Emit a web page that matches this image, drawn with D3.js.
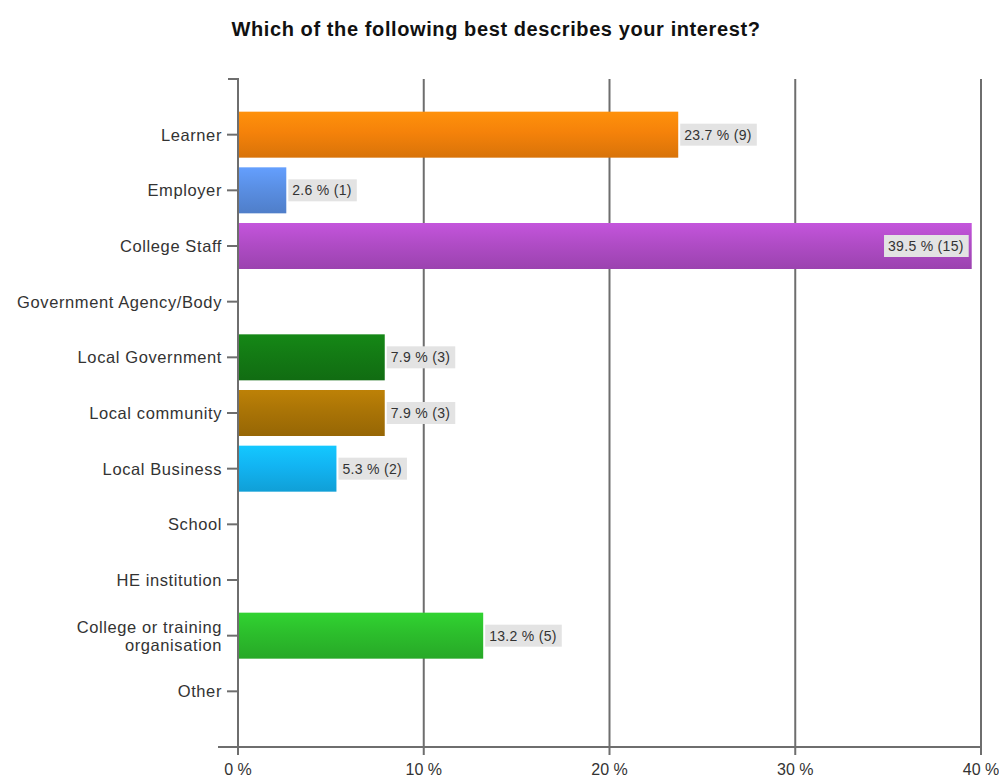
<!DOCTYPE html>
<html>
<head>
<meta charset="utf-8">
<script src="https://cdn.jsdelivr.net/npm/d3@7"></script>
<style>
  html, body { margin: 0; padding: 0; background: #fff; }
  svg { display: block; }
  text { font-family: "Liberation Sans", Arial, sans-serif; }
</style>
</head>
<body>
<svg id="chart" width="999" height="778"></svg>
<script>
// Survey responses: share of respondents per interest group
const categories = [
  "Learner", "Employer", "College Staff", "Government Agency/Body",
  "Local Government", "Local community", "Local Business", "School",
  "HE institution", "College or training organisation", "Other"
];
const percents = [23.7, 2.6, 39.5, 0, 7.9, 7.9, 5.3, 0, 0, 13.2, 0];
const counts   = [9, 1, 15, 0, 3, 3, 2, 0, 0, 5, 0];
const barColors = [
  "#f5820a", "#5a8fe4", "#b04cc6", "#888", "#137a14", "#aa7406",
  "#12b4f2", "#888", "#888", "#2cbe2c", "#888"
];
const xTicks = [0, 10, 20, 30, 40];
const titleText = "Which of the following best describes your interest?";

const svg = d3.select("#chart");
const plotLeft = 238, plotRight = 981, plotTop = 79, plotBottom = 747;

const x = d3.scaleLinear().domain([0, 40]).range([plotLeft, plotRight]);
const y = d3.scalePoint().domain(categories).range([plotTop, plotBottom]).padding(1);
const barH = 46;

// title
svg.append("text")
  .attr("x", 496).attr("y", 36)
  .attr("text-anchor", "middle")
  .attr("font-size", 20).attr("font-weight", "bold")
  .attr("letter-spacing", 0.6)
  .attr("fill", "#111")
  .text(titleText);

// vertical gradients for each bar
const defs = svg.append("defs");
barColors.forEach((c, i) => {
  const g = defs.append("linearGradient")
    .attr("id", "grad" + i).attr("x1", 0).attr("y1", 0).attr("x2", 0).attr("y2", 1);
  const base = d3.color(c);
  g.append("stop").attr("offset", "0%").attr("stop-color", base.brighter(0.3));
  g.append("stop").attr("offset", "45%").attr("stop-color", base);
  g.append("stop").attr("offset", "100%").attr("stop-color", base.darker(0.35));
});

// gridlines (extend slightly below the axis as ticks)
svg.append("g").selectAll("line")
  .data(xTicks.filter(d => d > 0))
  .join("line")
  .attr("x1", d => x(d)).attr("x2", d => x(d))
  .attr("y1", plotTop).attr("y2", plotBottom + 8)
  .attr("stroke", "#6e6e6e").attr("stroke-width", 2);

// bars
const data = categories.map((c, i) => ({ c, v: percents[i], n: counts[i], i }));
svg.append("g").selectAll("rect")
  .data(data.filter(d => d.v > 0))
  .join("rect")
  .attr("x", x(0))
  .attr("y", d => y(d.c) - barH / 2)
  .attr("width", d => x(d.v) - x(0))
  .attr("height", barH)
  .attr("fill", d => `url(#grad${d.i})`);

// value labels with grey box
const labels = svg.append("g");
data.filter(d => d.v > 0).forEach(d => {
  const g = labels.append("g");
  const t = g.append("text")
    .attr("font-size", 14)
    .attr("fill", "#333")
    .attr("letter-spacing", 0.3)
    .attr("dominant-baseline", "central")
    .attr("y", y(d.c))
    .text(`${d.v} % (${d.n})`);
  const w = t.node().getComputedTextLength();
  const boxW = w + 9;
  const inside = x(d.v) + boxW + 4 > plotRight;
  const bx = inside ? x(d.v) - boxW - 3 : x(d.v) + 2;
  t.attr("x", bx + 4);
  g.insert("rect", "text")
    .attr("x", bx).attr("y", y(d.c) - 11)
    .attr("width", boxW).attr("height", 22)
    .attr("fill", "#e3e3e3");
});

// y axis
const yAxis = svg.append("g").attr("transform", `translate(${plotLeft},0)`);
yAxis.append("path")
  .attr("d", `M${-10},${plotTop}H0V${plotBottom}`)
  .attr("fill", "none").attr("stroke", "#6e6e6e").attr("stroke-width", 2);
yAxis.selectAll("line.tick")
  .data(categories).join("line")
  .attr("class", "tick")
  .attr("x1", -11).attr("x2", 0)
  .attr("y1", d => y(d)).attr("y2", d => y(d))
  .attr("stroke", "#6e6e6e").attr("stroke-width", 2);
yAxis.selectAll("text")
  .data(categories).join("text")
  .attr("text-anchor", "end")
  .attr("font-size", 16.5)
  .attr("fill", "#333")
  .attr("letter-spacing", 0.6)
  .each(function (d) {
    const el = d3.select(this);
    if (d === "College or training organisation") {
      el.append("tspan").attr("x", -16).attr("y", y(d) - 3).text("College or training");
      el.append("tspan").attr("x", -16).attr("y", y(d) + 15).text("organisation");
    } else {
      el.attr("x", -16).attr("y", y(d) + 6).text(d);
    }
  });

// x axis
const xAxis = svg.append("g");
xAxis.append("line")
  .attr("x1", plotLeft - 20).attr("x2", plotRight)
  .attr("y1", plotBottom).attr("y2", plotBottom)
  .attr("stroke", "#6e6e6e").attr("stroke-width", 2);
xAxis.append("line")
  .attr("x1", plotLeft).attr("x2", plotLeft)
  .attr("y1", plotBottom).attr("y2", plotBottom + 8)
  .attr("stroke", "#6e6e6e").attr("stroke-width", 2);
xAxis.selectAll("text")
  .data(xTicks).join("text")
  .attr("x", d => x(d))
  .attr("y", plotBottom + 28)
  .attr("text-anchor", "middle")
  .attr("font-size", 16)
  .attr("fill", "#333")
  .text(d => `${d} %`);
</script>
</body>
</html>
